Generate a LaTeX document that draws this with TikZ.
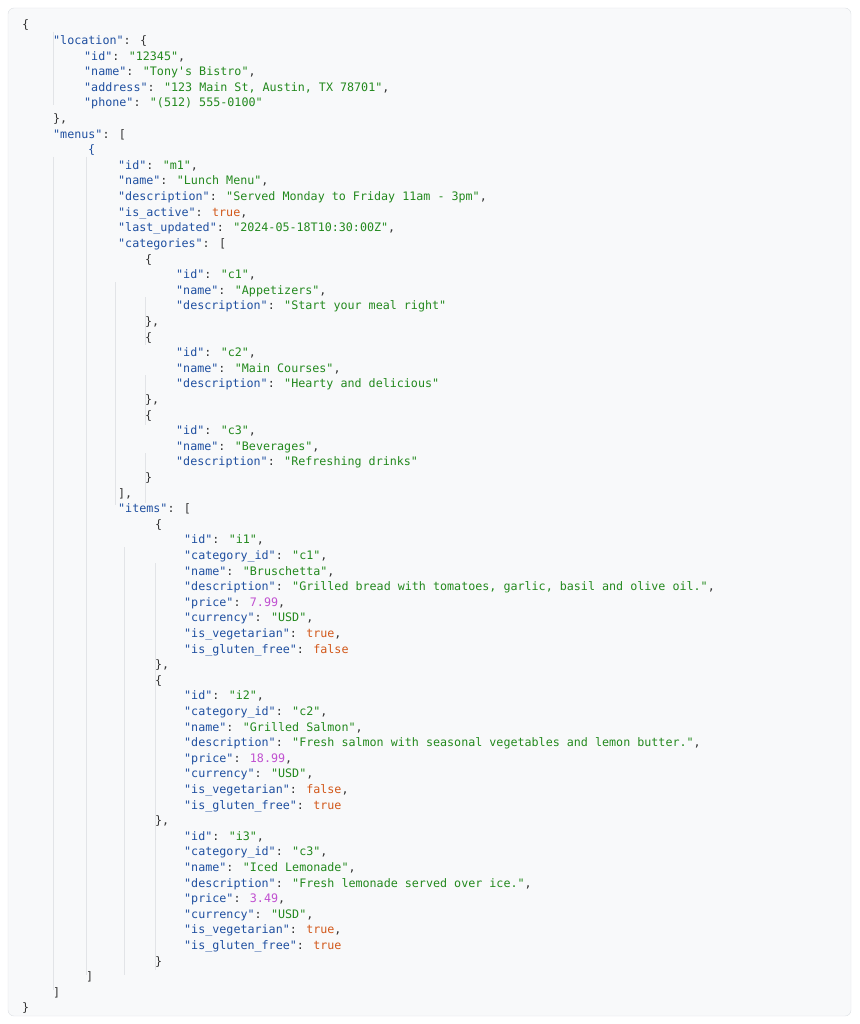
\documentclass[tikz,border=0pt]{standalone}
\usepackage{fontspec}
\newfontfamily\codefont{DejaVu Sans Mono}
\definecolor{kc}{HTML}{1F4FA0}
\definecolor{sc}{HTML}{23891E}
\definecolor{bc}{HTML}{D2581A}
\definecolor{nc}{HTML}{C050D0}
\definecolor{pc}{HTML}{333333}
\definecolor{bg}{HTML}{F8F9FA}
\definecolor{bd}{HTML}{DCDFE3}
\definecolor{gd}{HTML}{E2E4E7}
\newcommand\K[1]{\textcolor{kc}{"#1"}}
\newcommand\Sv[1]{\textcolor{sc}{"#1"}}
\newcommand\Bv[1]{\textcolor{bc}{#1}}
\newcommand\Nv[1]{\textcolor{nc}{#1}}
\newcommand\jl[3]{\node[code] (l#1) at (#2,{29+15.6*(#1-1)}) {#3};}
\begin{document}
\begin{tikzpicture}[x=1pt,y=-1pt,
  code/.style={anchor=base west,inner sep=0pt,font=\codefont\fontsize{11.7}{14}\selectfont,text=pc},
  guide/.style={draw=gd,line width=0.7pt}]
\useasboundingbox (0,0) rectangle (859,1024);
\draw[fill=bg,draw=bd,rounded corners=6pt] (8,8) rectangle (851,1016);
% guides
\draw[guide] (53,32) -- (53,105);
\draw[guide] (53,157) -- (53,990);
\draw[guide] (86,157) -- (86,975);
\draw[guide] (115,282) -- (115,505);
\draw[guide] (145,297) -- (145,345);
\draw[guide] (145,375) -- (145,425);
\draw[guide] (145,453) -- (145,503);
\draw[guide] (124,547) -- (124,975);
\draw[guide] (155,563) -- (155,970);
\jl{1}{22}{\{}
\jl{2}{53}{\K{location}: \{}
\jl{3}{84}{\K{id}: \Sv{12345},}
\jl{4}{84}{\K{name}: \Sv{Tony's Bistro},}
\jl{5}{84}{\K{address}: \Sv{123 Main St, Austin, TX 78701},}
\jl{6}{84}{\K{phone}: \Sv{(512) 555-0100}}
\jl{7}{53}{\},}
\jl{8}{53}{\K{menus}: [}
\jl{9}{88}{\textcolor{kc}{\{}}
\jl{10}{118}{\K{id}: \Sv{m1},}
\jl{11}{118}{\K{name}: \Sv{Lunch Menu},}
\jl{12}{118}{\K{description}: \Sv{Served Monday to Friday 11am - 3pm},}
\jl{13}{118}{\K{is\_active}: \Bv{true},}
\jl{14}{118}{\K{last\_updated}: \Sv{2024-05-18T10:30:00Z},}
\jl{15}{118}{\K{categories}: [}
\jl{16}{145}{\{}
\jl{17}{176}{\K{id}: \Sv{c1},}
\jl{18}{176}{\K{name}: \Sv{Appetizers},}
\jl{19}{176}{\K{description}: \Sv{Start your meal right}}
\jl{20}{145}{\},}
\jl{21}{145}{\{}
\jl{22}{176}{\K{id}: \Sv{c2},}
\jl{23}{176}{\K{name}: \Sv{Main Courses},}
\jl{24}{176}{\K{description}: \Sv{Hearty and delicious}}
\jl{25}{145}{\},}
\jl{26}{145}{\{}
\jl{27}{176}{\K{id}: \Sv{c3},}
\jl{28}{176}{\K{name}: \Sv{Beverages},}
\jl{29}{176}{\K{description}: \Sv{Refreshing drinks}}
\jl{30}{145}{\}}
\jl{31}{118}{],}
\jl{32}{118}{\K{items}: [}
\jl{33}{155}{\{}
\jl{34}{184}{\K{id}: \Sv{i1},}
\jl{35}{184}{\K{category\_id}: \Sv{c1},}
\jl{36}{184}{\K{name}: \Sv{Bruschetta},}
\jl{37}{184}{\K{description}: \Sv{Grilled bread with tomatoes, garlic, basil and olive oil.},}
\jl{38}{184}{\K{price}: \Nv{7.99},}
\jl{39}{184}{\K{currency}: \Sv{USD},}
\jl{40}{184}{\K{is\_vegetarian}: \Bv{true},}
\jl{41}{184}{\K{is\_gluten\_free}: \Bv{false}}
\jl{42}{155}{\},}
\jl{43}{155}{\{}
\jl{44}{184}{\K{id}: \Sv{i2},}
\jl{45}{184}{\K{category\_id}: \Sv{c2},}
\jl{46}{184}{\K{name}: \Sv{Grilled Salmon},}
\jl{47}{184}{\K{description}: \Sv{Fresh salmon with seasonal vegetables and lemon butter.},}
\jl{48}{184}{\K{price}: \Nv{18.99},}
\jl{49}{184}{\K{currency}: \Sv{USD},}
\jl{50}{184}{\K{is\_vegetarian}: \Bv{false},}
\jl{51}{184}{\K{is\_gluten\_free}: \Bv{true}}
\jl{52}{155}{\},}
\jl{53}{184}{\K{id}: \Sv{i3},}
\jl{54}{184}{\K{category\_id}: \Sv{c3},}
\jl{55}{184}{\K{name}: \Sv{Iced Lemonade},}
\jl{56}{184}{\K{description}: \Sv{Fresh lemonade served over ice.},}
\jl{57}{184}{\K{price}: \Nv{3.49},}
\jl{58}{184}{\K{currency}: \Sv{USD},}
\jl{59}{184}{\K{is\_vegetarian}: \Bv{true},}
\jl{60}{184}{\K{is\_gluten\_free}: \Bv{true}}
\jl{61}{155}{\}}
\jl{62}{86}{]}
\jl{63}{53}{]}
\jl{64}{22}{\}}
\end{tikzpicture}
\end{document}
